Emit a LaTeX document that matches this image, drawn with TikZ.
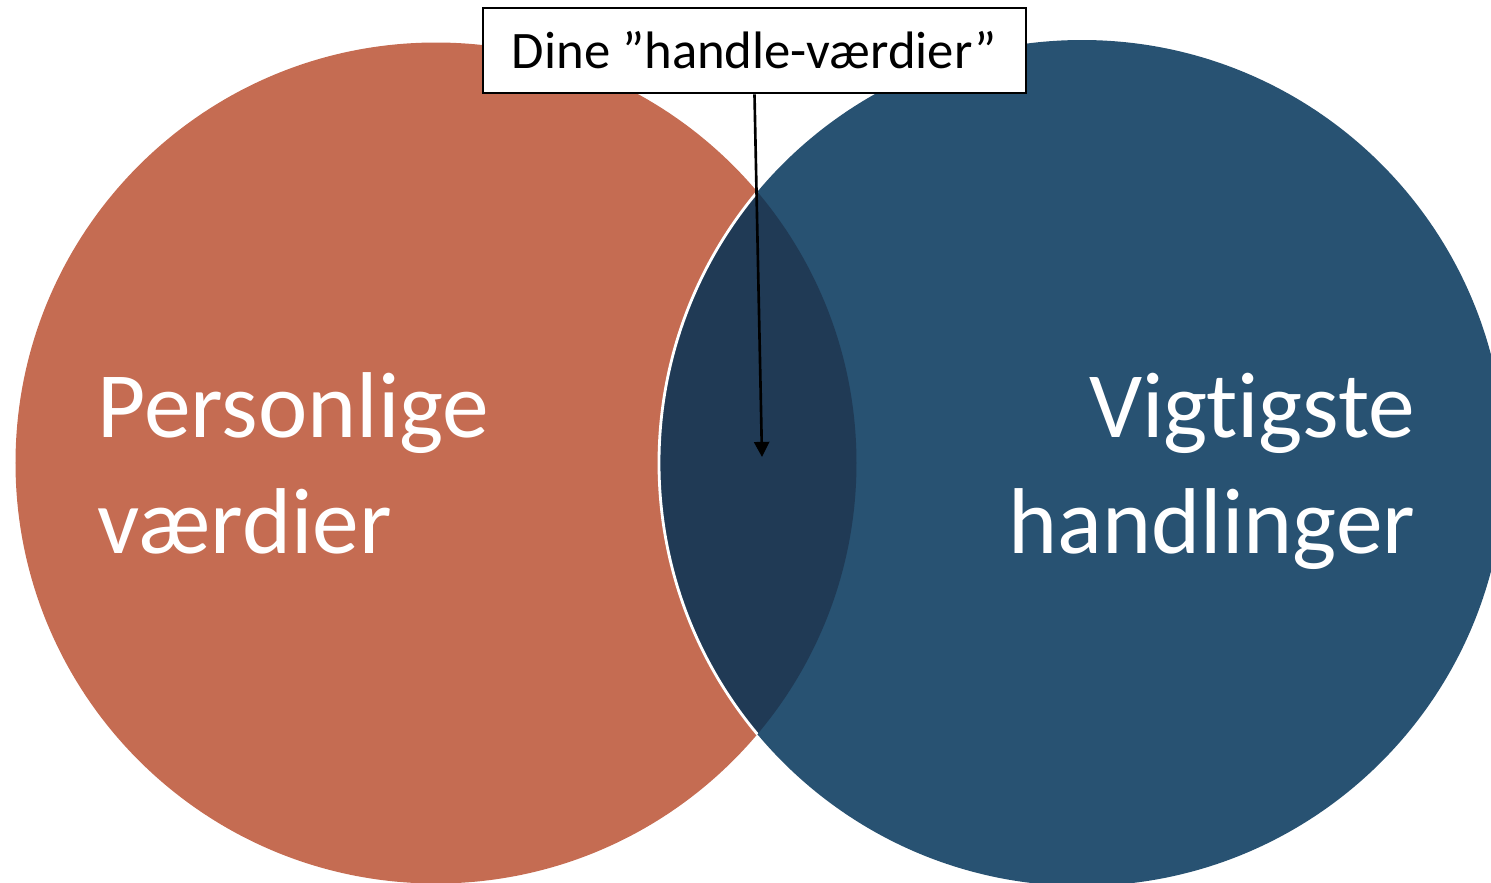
\documentclass[tikz,border=0pt]{standalone}
\usepackage{fontspec}
\setmainfont{Carlito}[RawFeature=-liga]
\usetikzlibrary{arrows.meta,positioning}
\definecolor{rust}{HTML}{C56C52}
\definecolor{navy}{HTML}{285272}
\definecolor{darknavy}{HTML}{203A55}

\begin{document}
\begin{tikzpicture}[
        labelbox/.style = {draw, fill=white, line width=0.8pt,
            minimum width=5.43cm, minimum height=0.85cm, inner sep=0pt,
            font=\fontsize{15}{18}\selectfont},
        bigtext/.style = {text=white, inner sep=0pt,
            font=\fontsize{26.6}{33}\selectfont}
        ]
        \useasboundingbox (0, 0) rectangle (14.91, 8.82);
        \clip (0, 0) rectangle (14.91, 8.82);
        \coordinate (left) at (4.36, 4.19);
        \coordinate (right) at (10.82, 4.19);
        \fill[rust] (left) circle (4.205);
        \fill[navy] (right) circle (4.23);
        \begin{scope}
            \clip (left) circle (4.205);
            \fill[darknavy] (right) circle (4.23);
            \draw[white, line width=0.8pt] (right) circle (4.23);
        \end{scope}
        \node[bigtext, anchor=base west, align=left] (values) at (0.97, 3.29) {Personlige\\værdier};
        \node[bigtext, anchor=base east, align=right] (actions) at (14.16, 3.29) {Vigtigste\\handlinger};
        \node[labelbox] (box) at (7.545, 8.315) {Dine ”handle-værdier”};
        \coordinate (overlap) at (7.62, 4.25);
        \draw[-{Triangle[width=4.3pt, length=4.3pt]}, line width=0.75pt] (box.south) -- (overlap);
\end{tikzpicture}
\end{document}
